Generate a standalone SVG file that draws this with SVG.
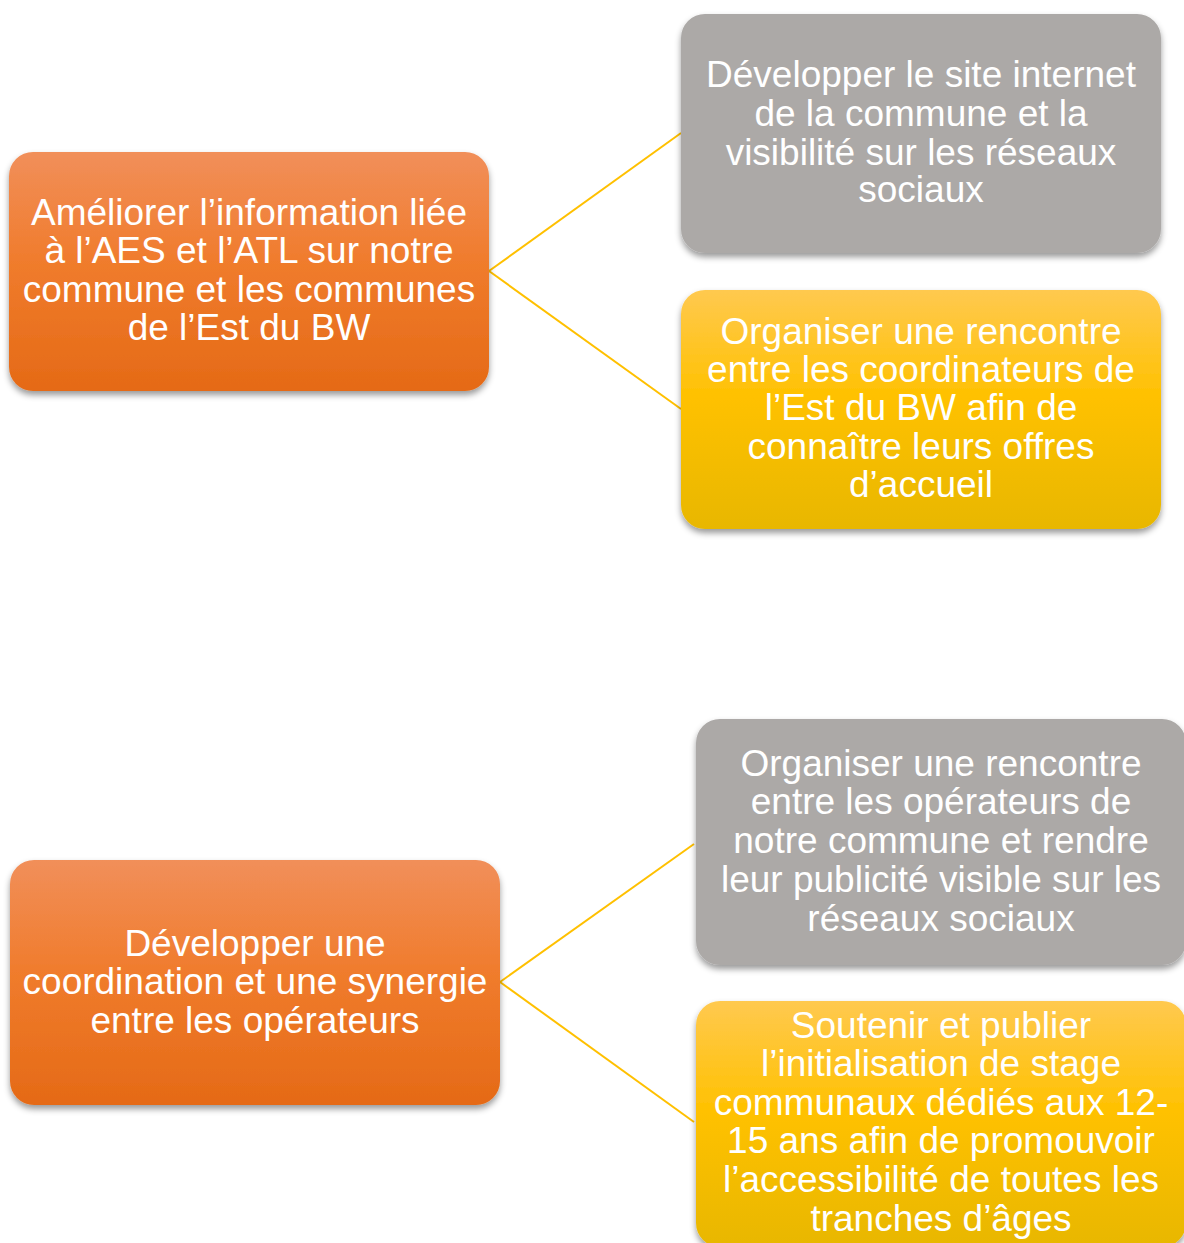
<svg xmlns="http://www.w3.org/2000/svg" width="1184" height="1243" viewBox="0 0 1184 1243">
<style>
text{font-family:"Liberation Sans",Arial,sans-serif;font-size:37px;fill:#fff;text-anchor:middle}
.conn{stroke:#FFC000;stroke-width:2;fill:none}
</style>
<defs>
<linearGradient id="gOr" x1="0" y1="0" x2="0" y2="1">
<stop offset="0" stop-color="#F18F5A"/><stop offset="0.45" stop-color="#F07C2D"/><stop offset="1" stop-color="#E56A16"/>
</linearGradient>
<linearGradient id="gYe" x1="0" y1="0" x2="0" y2="1">
<stop offset="0" stop-color="#FFC94F"/><stop offset="0.45" stop-color="#FFC100"/><stop offset="1" stop-color="#E8B700"/>
</linearGradient>
<filter id="sh" x="-10%" y="-10%" width="120%" height="125%">
<feDropShadow dx="0" dy="4" stdDeviation="3" flood-color="#000" flood-opacity="0.4"/>
</filter>
</defs>
<rect width="1184" height="1243" fill="#fff"/>
<g id="connectors">
<line class="conn" x1="489" y1="271" x2="681" y2="133"/>
<line class="conn" x1="489" y1="271" x2="681" y2="409"/>
<line class="conn" x1="500" y1="982" x2="694" y2="844"/>
<line class="conn" x1="500" y1="982" x2="694" y2="1122"/>
</g>
<g id="n1">
<rect x="9" y="152" width="480" height="239" rx="24" fill="url(#gOr)" filter="url(#sh)"/>
<text x="249" y="225">Améliorer l’information liée</text>
<text x="249" y="263">à l’AES et l’ATL sur notre</text>
<text x="249" y="302">commune et les communes</text>
<text x="249" y="340">de l’Est du BW</text>
</g>
<g id="n2">
<rect x="681" y="14" width="480" height="239" rx="24" fill="#ACA9A7" filter="url(#sh)"/>
<text x="921" y="87">Développer le site internet</text>
<text x="921" y="126">de la commune et la</text>
<text x="921" y="165">visibilité sur les réseaux</text>
<text x="921" y="202">sociaux</text>
</g>
<g id="n3">
<rect x="681" y="290" width="480" height="239" rx="24" fill="url(#gYe)" filter="url(#sh)"/>
<text x="921" y="344">Organiser une rencontre</text>
<text x="921" y="382">entre les coordinateurs de</text>
<text x="921" y="420">l’Est du BW afin de</text>
<text x="921" y="459">connaître leurs offres</text>
<text x="921" y="497">d’accueil</text>
</g>
<g id="n4">
<rect x="10" y="860" width="490" height="245" rx="24" fill="url(#gOr)" filter="url(#sh)"/>
<text x="255" y="956">Développer une</text>
<text x="255" y="994">coordination et une synergie</text>
<text x="255" y="1033">entre les opérateurs</text>
</g>
<g id="n5">
<rect x="696" y="719" width="490" height="246" rx="24" fill="#ACA9A7" filter="url(#sh)"/>
<text x="941" y="776">Organiser une rencontre</text>
<text x="941" y="814">entre les opérateurs de</text>
<text x="941" y="853">notre commune et rendre</text>
<text x="941" y="892">leur publicité visible sur les</text>
<text x="941" y="931">réseaux sociaux</text>
</g>
<g id="n6">
<rect x="696" y="1001" width="490" height="246" rx="24" fill="url(#gYe)" filter="url(#sh)"/>
<text x="941" y="1038">Soutenir et publier</text>
<text x="941" y="1076">l’initialisation de stage</text>
<text x="941" y="1115">communaux dédiés aux 12-</text>
<text x="941" y="1153">15 ans afin de promouvoir</text>
<text x="941" y="1192">l’accessibilité de toutes les</text>
<text x="941" y="1231">tranches d’âges</text>
</g>
</svg>
